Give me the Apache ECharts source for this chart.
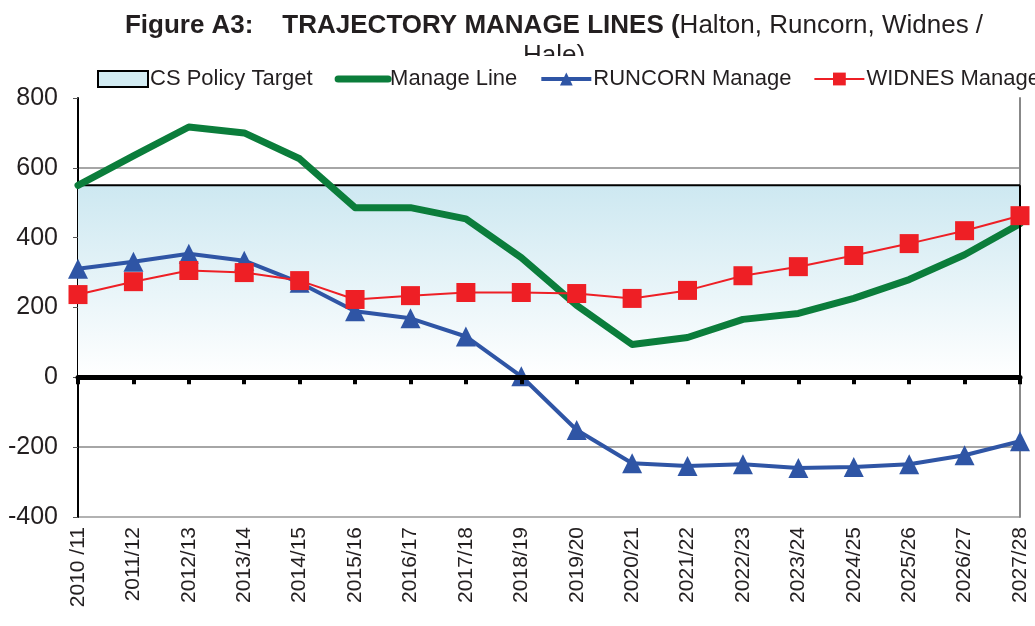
<!DOCTYPE html>
<html>
<head>
<meta charset="utf-8">
<script src="https://cdn.jsdelivr.net/npm/echarts@6/dist/echarts.min.js"></script>
<style>
  html, body { margin: 0; padding: 0; background: #fff; }
  #main { width: 1035px; height: 626px; }
</style>
</head>
<body>
<div id="main"></div>
<script>
var chart = echarts.init(document.getElementById('main'));

var years = ['2010 /11', '2011/12', '2012/13', '2013/14', '2014/15', '2015/16', '2016/17', '2017/18', '2018/19',
    '2019/20', '2020/21', '2021/22', '2022/23', '2023/24', '2024/25', '2025/26', '2026/27', '2027/28'];

var policyTarget = [550, 550, 550, 550, 550, 550, 550, 550, 550, 550, 550, 550, 550, 550, 550, 550, 550, 550];
var manageLine = [550, 634, 717, 700, 626, 486, 486, 454, 343, 206, 94, 114, 166, 183, 226, 280, 351, 440];
var runcorn = [311, 331, 354, 334, 271, 189, 169, 117, 3, -151, -246, -254, -249, -260, -257, -249, -223, -183];
var widnes = [237, 274, 306, 300, 277, 223, 234, 243, 243, 240, 226, 249, 291, 317, 349, 383, 420, 463];

var font = 'Liberation Sans, Arial, sans-serif';

var option = {
    backgroundColor: '#fff',
    animation: false,
    title: {
        left: 549,
        top: 6,
        textAlign: 'center',
        text: '{b|Figure A3:    TRAJECTORY MANAGE LINES (}{n|Halton, Runcorn, Widnes /}\n{n|Hale)}',
        textStyle: {
            fontWeight: 'normal',
            rich: {
                b: { fontFamily: font, fontSize: 26, fontWeight: 'bold', color: '#231f20', lineHeight: 30 },
                n: { fontFamily: font, fontSize: 26, fontWeight: 'normal', color: '#231f20', lineHeight: 30 }
            }
        }
    },
    legend: {
        left: 92,
        top: 56,
        width: 1000,
        z: 10,
        backgroundColor: '#fff',
        padding: [12, 5, 6, 5],
        itemGap: 22,
        itemWidth: 50,
        itemHeight: 16,
        textStyle: { fontFamily: font, fontSize: 22, color: '#231f20', padding: [0, 0, 0, -3] },
        data: [
            { name: 'CS Policy Target', icon: 'rect', itemStyle: { color: '#d3ecf3', borderColor: '#000', borderWidth: 2 } },
            { name: 'Manage Line', itemStyle: { opacity: 0 }, lineStyle: { width: 7, cap: 'round' } },
            { name: 'RUNCORN Manage', lineStyle: { width: 4 } },
            { name: 'WIDNES Manage', lineStyle: { width: 2 } }
        ]
    },
    grid: { left: 78, right: 15, top: 98, bottom: 109, containLabel: false },
    xAxis: [{
        type: 'category',
        data: years,
        boundaryGap: false,
        axisLine: { onZero: true, lineStyle: { color: '#000', width: 5 } },
        axisTick: { show: true, interval: 0, length: 7, lineStyle: { color: '#000', width: 4 } },
        axisLabel: { show: false },
        splitLine: { show: false },
        z: 5
    }, {
        type: 'category',
        data: years,
        boundaryGap: false,
        position: 'bottom',
        axisLine: { onZero: false, show: false },
        axisTick: { show: false },
        axisLabel: {
            rotate: 90,
            margin: 10,
            interval: 0,
            fontFamily: font,
            fontSize: 21,
            color: '#231f20'
        }
    }],
    yAxis: [{
        type: 'value',
        min: -400,
        max: 800,
        interval: 200,
        axisLine: { show: true, lineStyle: { color: '#000', width: 2 } },
        axisTick: { show: true, length: 5, lineStyle: { color: '#555' } },
        axisLabel: { fontFamily: font, fontSize: 25, color: '#231f20', margin: 20 },
        splitLine: {
            show: true,
            lineStyle: { color: ['#999', '#888', '#888', '#888', '#888', '#888', 'rgba(0,0,0,0)'], width: 1.5 }
        }
    }, {
        type: 'value',
        position: 'right',
        min: -400,
        max: 800,
        interval: 200,
        axisLine: { show: true, lineStyle: { color: '#888', width: 2 } },
        axisTick: { show: false },
        axisLabel: { show: false },
        splitLine: { show: false }
    }],
    series: [{
        name: 'CS Policy Target',
        type: 'line',
        data: policyTarget,
        symbol: 'none',
        lineStyle: { color: '#000', width: 2 },
        itemStyle: { color: '#d3ecf3' },
        areaStyle: {
            opacity: 1,
            color: new echarts.graphic.LinearGradient(0, 0, 0, 1, [
                { offset: 0, color: '#cde8f1' },
                { offset: 1, color: '#ffffff' }
            ])
        },
        markLine: {
            silent: true,
            symbol: 'none',
            label: { show: false },
            lineStyle: { color: '#000', width: 2, type: 'solid' },
            data: [[{ coord: [years.length - 1, 0] }, { coord: [years.length - 1, policyTarget[years.length - 1]] }]]
        },
        z: 2
    }, {
        name: 'Manage Line',
        type: 'line',
        data: manageLine,
        symbol: 'none',
        lineStyle: { color: '#0b7d3b', width: 7, cap: 'round', join: 'round' },
        itemStyle: { color: '#0b7d3b' },
        z: 3
    }, {
        name: 'RUNCORN Manage',
        type: 'line',
        data: runcorn,
        symbol: 'triangle',
        symbolSize: 20,
        showAllSymbol: true,
        lineStyle: { color: '#2f55a5', width: 4 },
        itemStyle: { color: '#2f55a5' },
        z: 4
    }, {
        name: 'WIDNES Manage',
        type: 'line',
        data: widnes,
        symbol: 'rect',
        symbolSize: 19,
        showAllSymbol: true,
        lineStyle: { color: '#ee1f25', width: 2 },
        itemStyle: { color: '#ee1f25' },
        z: 6
    }]
};

chart.setOption(option);
</script>
</body>
</html>
